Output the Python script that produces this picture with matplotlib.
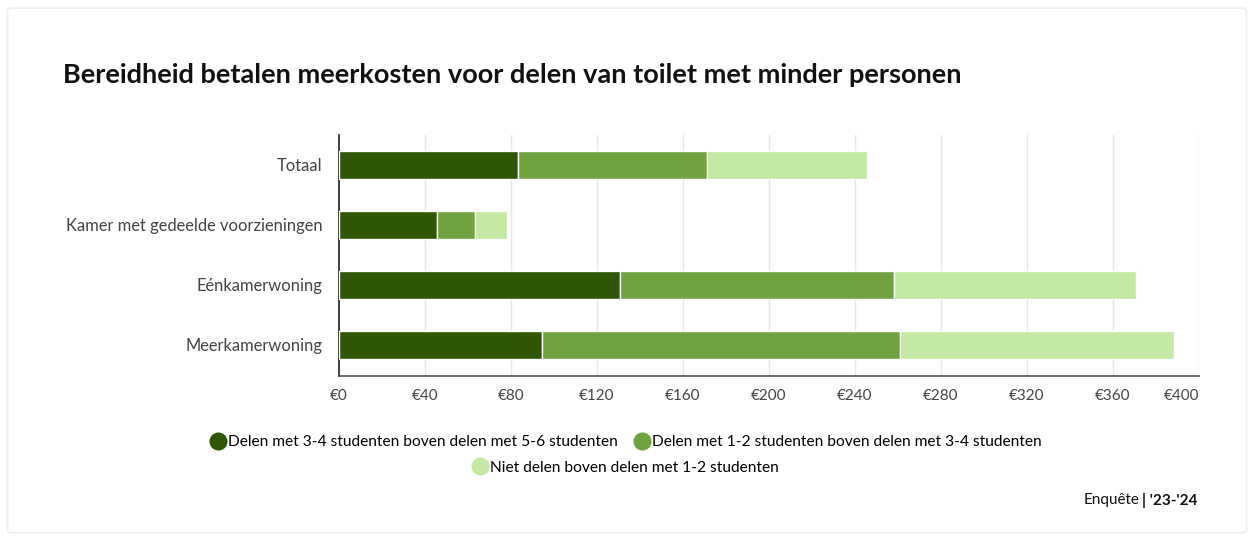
import matplotlib.pyplot as plt
from matplotlib.lines import Line2D
from matplotlib.patches import FancyBboxPatch

plt.rcParams['font.family'] = ['Lato', 'DejaVu Sans']

# data (euro)
categories = ["Totaal", "Kamer met gedeelde voorzieningen", "Eénkamerwoning", "Meerkamerwoning"]
series_names = [
    "Delen met 3-4 studenten boven delen met 5-6 studenten",
    "Delen met 1-2 studenten boven delen met 3-4 studenten",
    "Niet delen boven delen met 1-2 studenten",
]
delen_3_4 = [83.4, 45.8, 130.6, 94.4]
delen_1_2 = [87.6, 17.7, 127.6, 166.6]
niet_delen = [74.8, 14.6, 112.7, 127.5]
xticks = [0, 40, 80, 120, 160, 200, 240, 280, 320, 360, 400]

colors = ["#2e5604", "#6fa33f", "#c5e8a4"]

fig = plt.figure(figsize=(12.54, 5.38), dpi=100)

# card background
card = FancyBboxPatch((0.006, 0.01), 0.988, 0.975, boxstyle="round,pad=0,rounding_size=0.004",
                      transform=fig.transFigure, facecolor="white", edgecolor="#eeeeee", lw=1.2,
                      zorder=-5)
fig.patches.append(card)

ax = fig.add_axes([0.2703, 0.3011, 0.6858, 0.448])
ax.set_facecolor("none")

y = list(range(len(categories)))
left = [0] * len(categories)
for vals, col, name in zip([delen_3_4, delen_1_2, niet_delen], colors, series_names):
    ax.barh(y, vals, left=left, height=0.47, color=col, edgecolor="white", linewidth=1, label=name, zorder=3)
    left = [a + b for a, b in zip(left, vals)]

ax.set_xlim(0, 400)
ax.set_ylim(3.52, -0.5)
ax.set_yticks(y)
ax.set_yticklabels(categories, fontsize=11.9, color="#444444")
ax.set_xticks(xticks)
ax.set_xticklabels([f"€{v}" for v in xticks], fontsize=11, color="#444444")
ax.get_xticklabels()[-1].set_horizontalalignment("right")
ax.tick_params(axis="both", length=0, pad=9)
ax.tick_params(axis="y", pad=12)
ax.grid(axis="x", color="#e6e6e6", lw=1, zorder=0)
for s in ["top", "right"]:
    ax.spines[s].set_visible(False)
ax.spines["left"].set_color("#222222")
ax.spines["bottom"].set_color("#555555")
ax.spines["left"].set_linewidth(1.2)
ax.spines["bottom"].set_linewidth(1.2)

fig.text(0.050, 0.86, "Bereidheid betalen meerkosten voor delen van toilet met minder personen",
         fontsize=19.5, fontweight="bold", color="#111111", va="center")

handles = [Line2D([0], [0], marker="o", ls="", markersize=12, markerfacecolor=c, markeredgecolor=c)
           for c in colors]
fig.legend(handles[:2], series_names[:2], loc="center", bbox_to_anchor=(0.4985, 0.178), ncol=2,
           frameon=False, fontsize=11.2, handletextpad=0.05, columnspacing=1.0, handlelength=1.2)
fig.legend(handles[2:], series_names[2:], loc="center", bbox_to_anchor=(0.4985, 0.131),
           frameon=False, fontsize=11.2, handletextpad=0.05, handlelength=1.2)

fig.text(0.955, 0.07, "| '23-'24", fontsize=11, fontweight="bold", ha="right", va="center", color="#111111")
fig.text(0.9085, 0.07, "Enquête", fontsize=11, ha="right", va="center", color="#111111")

fig.savefig("out.png", dpi=100)
